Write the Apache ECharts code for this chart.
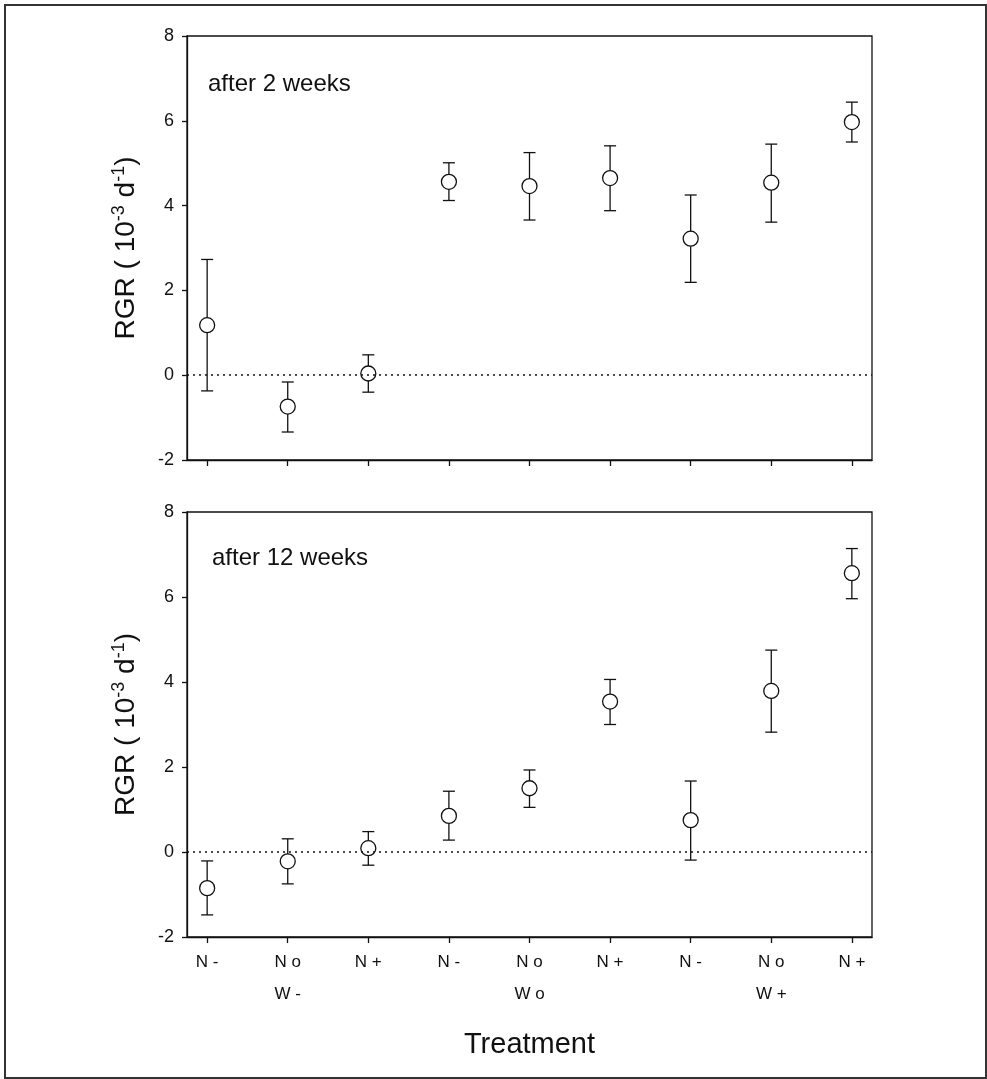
<!DOCTYPE html>
<html lang="en">
<head>
    <meta charset="UTF-8">
    <title>RGR after 2 and 12 weeks</title>
    <script src="https://cdn.jsdelivr.net/npm/echarts@6/dist/echarts.min.js"></script>
    <style>
        html, body { margin: 0; padding: 0; background: #fff; }
        #graph { width: 987px; height: 1079px; }
    </style>
</head>
<body>
<div id="graph"></div>
<script>
    // treatment labels on the x axis
    var treatments = ['N -', 'N o', 'N +', 'N -', 'N o', 'N +', 'N -', 'N o', 'N +'];
    var waterGroups = ['W -', 'W o', 'W +'];
    var yTicks = [-2, 0, 2, 4, 6, 8];

    // after 2 weeks (mean, upper and lower end of error bar)
    var week2Mean  = [1.18, -0.74, 0.04, 4.56, 4.46, 4.65, 3.22, 4.54, 5.97];
    var week2Upper = [2.73, -0.16, 0.48, 5.01, 5.25, 5.41, 4.25, 5.45, 6.44];
    var week2Lower = [-0.37, -1.34, -0.40, 4.12, 3.66, 3.88, 2.19, 3.61, 5.50];

    // after 12 weeks
    var week12Mean  = [-0.85, -0.22, 0.09, 0.85, 1.50, 3.54, 0.75, 3.79, 6.56];
    var week12Upper = [-0.21, 0.31, 0.48, 1.43, 1.93, 4.06, 1.67, 4.75, 7.14];
    var week12Lower = [-1.48, -0.75, -0.31, 0.28, 1.05, 3.00, -0.19, 2.82, 5.96];

    var font = "'Liberation Sans', Arial, sans-serif";
    var positions = treatments.map(function (t, i) { return i + 1; });

    function points(mean) {
        return mean.map(function (v, i) { return [positions[i], v]; });
    }
    function bars(lower, upper) {
        return lower.map(function (v, i) { return [positions[i], v, upper[i]]; });
    }

    function errorBar(params, api) {
        var x = api.value(0);
        var lo = api.coord([x, api.value(1)]);
        var hi = api.coord([x, api.value(2)]);
        var half = 6;
        var st = { stroke: '#111', lineWidth: 1.3 };
        return {
            type: 'group',
            children: [
                { type: 'line', shape: { x1: hi[0], y1: hi[1], x2: lo[0], y2: lo[1] }, style: st },
                { type: 'line', shape: { x1: hi[0] - half, y1: hi[1], x2: hi[0] + half, y2: hi[1] }, style: st },
                { type: 'line', shape: { x1: lo[0] - half, y1: lo[1], x2: lo[0] + half, y2: lo[1] }, style: st }
            ]
        };
    }

    function xAxisFor(gridIndex, withLabels) {
        return {
            type: 'value',
            gridIndex: gridIndex,
            min: 0.75,
            max: 9.25,
            axisLine: { show: true, onZero: false, lineStyle: { color: '#111', width: 1.3 } },
            axisTick: { show: true, customValues: positions, length: 6, lineStyle: { color: '#111', width: 1.3 } },
            axisLabel: {
                show: withLabels,
                customValues: positions,
                margin: 9,
                color: '#111',
                fontFamily: font,
                fontSize: 17,
                lineHeight: 32,
                formatter: function (v) {
                    var i = Math.round(v) - 1;
                    var s = treatments[i];
                    if (i % 3 === 1) {
                        s += '\n' + waterGroups[(i - 1) / 3];
                    }
                    return s;
                }
            },
            splitLine: { show: false },
            name: withLabels ? 'Treatment' : '',
            nameLocation: 'middle',
            nameGap: 93,
            nameTextStyle: { fontFamily: font, fontSize: 29, color: '#111' }
        };
    }

    function yAxisFor(gridIndex) {
        return {
            type: 'value',
            gridIndex: gridIndex,
            min: yTicks[0],
            max: yTicks[yTicks.length - 1],
            interval: 2,
            axisLine: { show: true, lineStyle: { color: '#111', width: 1.3 } },
            axisTick: { show: true, length: 5, lineStyle: { color: '#111', width: 1.3 } },
            axisLabel: { margin: 13, color: '#111', fontFamily: font, fontSize: 18 },
            splitLine: { show: false },
            name: '{a|RGR ( 10}{s|-3}{a| d}{s|-1}{a|)}',
            nameLocation: 'middle',
            nameRotate: 90,
            nameGap: 45,
            nameTextStyle: {
                rich: {
                    a: { fontFamily: font, fontSize: 28, lineHeight: 32, color: '#111' },
                    s: { fontFamily: font, fontSize: 18, verticalAlign: 'top', color: '#111' }
                }
            }
        };
    }

    function panelSeries(index, mean, lower, upper) {
        return [
            {
                type: 'custom',
                xAxisIndex: index,
                yAxisIndex: index,
                renderItem: errorBar,
                data: bars(lower, upper),
                z: 2,
                markLine: {
                    silent: true,
                    symbol: 'none',
                    label: { show: false },
                    lineStyle: { type: [2, 4], color: '#111', width: 1.5 },
                    data: [{ yAxis: 0 }]
                }
            },
            {
                type: 'scatter',
                xAxisIndex: index,
                yAxisIndex: index,
                symbol: 'circle',
                symbolSize: 15,
                itemStyle: { color: '#fff', borderColor: '#111', borderWidth: 1.3, opacity: 1 },
                data: points(mean),
                z: 3
            }
        ];
    }

    var myChart = echarts.init(document.getElementById('graph'));
    var option = {
        animation: false,
        backgroundColor: '#fff',
        grid: [
            { left: 187, top: 36, width: 685, height: 424, show: true, borderColor: '#111', borderWidth: 1.3 },
            { left: 187, top: 512, width: 685, height: 425, show: true, borderColor: '#111', borderWidth: 1.3 }
        ],
        xAxis: [xAxisFor(0, false), xAxisFor(1, true)],
        yAxis: [yAxisFor(0), yAxisFor(1)],
        graphic: [
            {
                type: 'rect',
                shape: { x: 5, y: 5, width: 981, height: 1073 },
                style: { fill: 'none', stroke: '#333', lineWidth: 2 },
                silent: true
            },
            {
                type: 'text',
                x: 208, y: 84,
                style: { text: 'after 2 weeks', font: "24px 'Liberation Sans', Arial, sans-serif", fill: '#111', verticalAlign: 'middle' }
            },
            {
                type: 'text',
                x: 212, y: 558,
                style: { text: 'after 12 weeks', font: "24px 'Liberation Sans', Arial, sans-serif", fill: '#111', verticalAlign: 'middle' }
            }
        ],
        series: panelSeries(0, week2Mean, week2Lower, week2Upper)
            .concat(panelSeries(1, week12Mean, week12Lower, week12Upper))
    };
    myChart.setOption(option);
</script>
</body>
</html>
